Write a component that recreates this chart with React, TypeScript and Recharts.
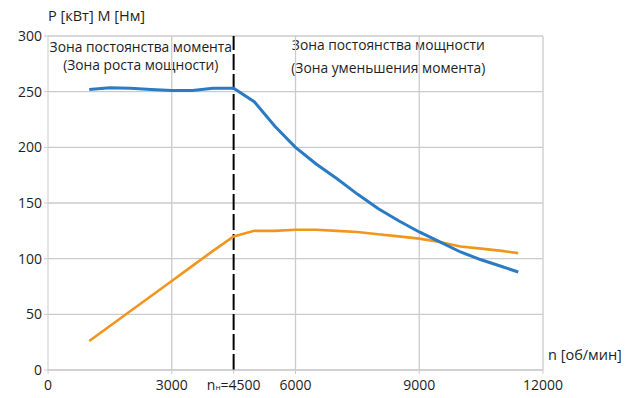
import { LineChart, Line, XAxis, YAxis, CartesianGrid, ReferenceLine, ReferenceArea } from 'recharts';

// rpm points
const rpm = [1000, 1500, 2000, 2500, 3000, 3500, 4000, 4500, 5000, 5500, 6000, 6500, 7000, 7500, 8000, 8500, 9000, 9500, 10000, 10500, 11000, 11400];
// torque M [Нм]
const torque = [252, 253.5, 253, 252, 251, 251, 253, 253, 241, 219, 200, 185, 172, 158, 145, 134, 124, 115, 106, 99, 93, 88];
// power P [кВт]
const power = [26, 39.5, 53, 66.5, 80, 93.5, 107, 120, 125, 125, 126, 126, 125, 124, 122, 120, 118, 115, 111, 109, 107, 105];

const xTicks = [0, 3000, 4500, 6000, 9000, 12000];
const yTicks = [0, 50, 100, 150, 200, 250, 300];
const gridX = [3000, 6000, 9000, 12000];
const ratedRpm = 4500;

const leftZone = ['Зона постоянства момента', '(Зона роста мощности)'];
const rightZone = ['Зона постоянства мощности', '(Зона уменьшения момента)'];

const data = rpm.map((n, i) => ({ n, M: torque[i], P: power[i] }));

const FONT = '"Open Sans", sans-serif';
const GRID = '#cbcbcb';
const INK = '#1e1e1e';

const XTick = (props: any) => {
  const { x, y, payload } = props;
  if (payload.value === ratedRpm) {
    return (
      <text x={x} y={y + 14} textAnchor="middle" fontSize={14} fill={INK} fontFamily={FONT}>
        n<tspan fontSize={8}>н</tspan>=4500
      </text>
    );
  }
  return (
    <text x={x} y={y + 14} textAnchor="middle" fontSize={14} fill={INK} fontFamily={FONT}>
      {payload.value}
    </text>
  );
};

const zoneLabel = (lines: string[], offsets: number[]) => (props: any) => {
  const { x, y, width } = props.viewBox;
  return (
    <g>
      {lines.map((t, i) => (
        <text key={i} x={x + width / 2} y={y + offsets[i]} textAnchor="middle" fontSize={13.8} fill={INK} fontFamily={FONT}>
          {t}
        </text>
      ))}
    </g>
  );
};

export default function App() {
  return (
    <div style={{ position: 'absolute', left: 0, top: 0, width: 633, height: 398, background: '#fff' }}>
      <div style={{ position: 'absolute', left: 48, top: 6, fontFamily: FONT, fontSize: 14.5, color: INK }}>
        P [кВт] M [Нм]
      </div>
      <div style={{ position: 'absolute', left: 548, top: 345, fontFamily: FONT, fontSize: 14.5, color: INK }}>
        n [об/мин]
      </div>
      <LineChart width={633} height={398} data={data} margin={{ top: 36, right: 90, bottom: 4, left: 8 }}>
        <CartesianGrid vertical={false} stroke={GRID} strokeWidth={1.3} />
        <XAxis
          dataKey="n"
          type="number"
          domain={[0, 12000]}
          ticks={xTicks}
          tick={<XTick />}
          height={24}
          stroke={GRID}
          tickSize={4}
          interval={0}
        />
        <YAxis
          type="number"
          domain={[0, 300]}
          ticks={yTicks}
          width={40}
          stroke={GRID}
          tickSize={4}
          tick={{ fontSize: 14, fill: INK, fontFamily: FONT }}
        />
        {gridX.map((v) => (
          <ReferenceLine key={v} x={v} stroke={GRID} strokeWidth={1.3} />
        ))}
        <ReferenceArea x1={0} x2={ratedRpm} y1={0} y2={300} fill="none" stroke="none" label={zoneLabel(leftZone, [16, 34])} />
        <ReferenceArea x1={ratedRpm} x2={12000} y1={0} y2={300} fill="none" stroke="none" label={zoneLabel(rightZone, [14, 37])} />
        <ReferenceLine x={ratedRpm} stroke="#000" strokeWidth={2} strokeDasharray="16 4" />
        <Line type="linear" dataKey="P" stroke="#f0961e" strokeWidth={2.6} dot={false} isAnimationActive={false} />
        <Line type="linear" dataKey="M" stroke="#2b7bc4" strokeWidth={3} dot={false} isAnimationActive={false} />
      </LineChart>
    </div>
  );
}
